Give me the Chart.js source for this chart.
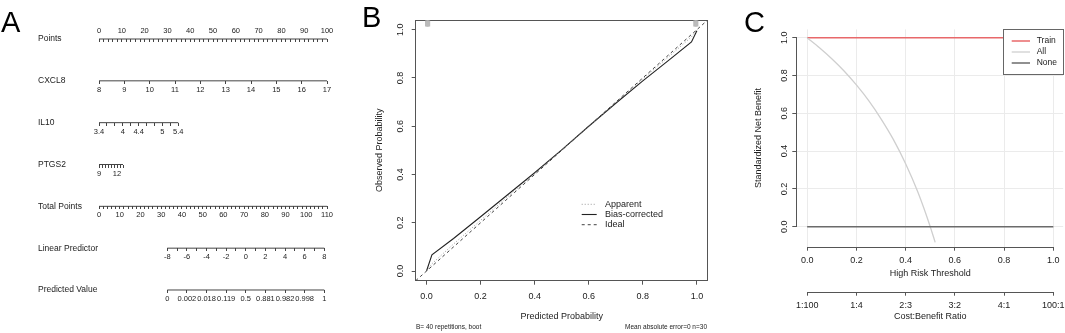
<!DOCTYPE html>
<html>
<head>
<meta charset="utf-8">
<script src="https://cdn.jsdelivr.net/npm/chart.js@4.4.1/dist/chart.umd.min.js"></script>
<style>
  html, body { margin: 0; padding: 0; background: #fff; }
  #wrap { position: relative; width: 1065px; height: 333px; overflow: hidden; }
  canvas { position: absolute; top: 0; }
</style>
</head>
<body>
<div id="wrap">
  <canvas id="nomo" width="340" height="333" style="left:0"></canvas>
  <canvas id="calib" width="370" height="333" style="left:340px"></canvas>
  <canvas id="dca" width="355" height="333" style="left:710px"></canvas>
</div>
<script>
// ---------- data: A nomogram ----------
const rowNames = ['Points', 'CXCL8', 'IL10', 'PTGS2', 'Total Points', 'Linear Predictor', 'Predicted Value'];
const pointsLabels = [0, 10, 20, 30, 40, 50, 60, 70, 80, 90, 100];
const cxcl8Ticks = [8, 9, 10, 11, 12, 13, 14, 15, 16, 17];
const il10Labels = [3.4, 4, 4.4, 5, 5.4];
const ptgs2Labels = [9, 12];
const totalLabels = [0, 10, 20, 30, 40, 50, 60, 70, 80, 90, 100, 110];
const lpLabels = [-8, -6, -4, -2, 0, 2, 4, 6, 8];
const predAt = [-8, -6, -4, -2, 0, 2, 4, 6, 8];
const predLabels = ['0', '0.002', '0.018', '0.119', '0.5', '0.881', '0.982', '0.998', '1'];

// ---------- data: B calibration ----------
const calX = [0, 0.02, 0.1, 0.2, 0.3, 0.4, 0.5, 0.6, 0.7, 0.8, 0.9, 0.98, 1.0];
const biasY = [0, 0.067, 0.135, 0.225, 0.316, 0.407, 0.502, 0.6, 0.695, 0.788, 0.877, 0.949, 0.995];
const apparentY = [0, 0.03, 0.112, 0.21, 0.308, 0.404, 0.5, 0.6, 0.698, 0.796, 0.892, 0.97, 1.0];
const idealX = [-0.04, 1.04];
const rugX = [0, 0.004, 0.008, 0.992, 0.996, 1.0];
const calTicks = [0, 0.2, 0.4, 0.6, 0.8, 1.0];

// ---------- data: C decision curve ----------
const thrTicks = [0, 0.2, 0.4, 0.6, 0.8, 1.0];
const ratioLabels = ['1:100', '1:4', '2:3', '3:2', '4:1', '100:1'];
const nbTicks = [0, 0.2, 0.4, 0.6, 0.8, 1.0];
const trainX = [0, 1], trainY = [1, 1];
const allX = [0, 0.05, 0.1, 0.15, 0.2, 0.25, 0.3, 0.35, 0.4, 0.45, 0.5, 0.52];
const allY = [1.0, 0.947, 0.889, 0.824, 0.75, 0.667, 0.571, 0.462, 0.333, 0.182, 0.0, -0.083];
const noneX = [0, 1], noneY = [0, 0];

const FONT = "'Liberation Sans', Arial, sans-serif";
Chart.defaults.font.family = FONT;
Chart.defaults.color = '#222';
Chart.defaults.animation = false;
Chart.defaults.responsive = false;
Chart.defaults.layout.autoPadding = false;
Chart.defaults.plugins.legend.display = false;
Chart.defaults.plugins.tooltip.enabled = false;

function seq(a, b, step) {
  const out = [];
  for (let v = a; v <= b + 1e-9; v += step) out.push(+v.toFixed(4));
  return out;
}
function pts(xs, ys) { return xs.map((x, i) => ({x: x, y: ys[i]})); }
function has(list, v) { return list.some(u => Math.abs(u - v) < 1e-6); }
function fixTicks(vals) { return s => { s.ticks = vals.map(v => ({value: v})); }; }
// fixed axis box size, no label overhang padding
function fixSize(w, h) {
  return s => {
    if (w !== null) s.width = w;
    if (h !== null) s.height = h;
    s.paddingLeft = s.paddingRight = s.paddingTop = s.paddingBottom = 0;
  };
}

// plugins
const panelLetter = {
  id: 'panelLetter',
  afterDraw(chart, args, o) {
    const ctx = chart.ctx;
    ctx.save();
    ctx.font = o.size + 'px ' + FONT;
    ctx.fillStyle = '#000';
    ctx.textBaseline = 'alphabetic';
    ctx.fillText(o.text, o.x, o.y);
    ctx.restore();
  }
};

const notes = {
  id: 'notes',
  afterDraw(chart, args, o) {
    const ctx = chart.ctx;
    ctx.save();
    o.items.forEach(n => {
      ctx.font = n.size + 'px ' + FONT;
      ctx.fillStyle = '#222';
      ctx.textAlign = n.align;
      ctx.textBaseline = 'middle';
      ctx.fillText(n.text, n.x, n.y);
    });
    ctx.restore();
  }
};

const lineLegend = {
  id: 'lineLegend',
  afterDraw(chart, args, o) {
    const ctx = chart.ctx;
    ctx.save();
    if (o.box) {
      ctx.fillStyle = '#fff';
      ctx.fillRect(o.box.x, o.box.y, o.box.w, o.box.h);
      ctx.strokeStyle = '#666';
      ctx.lineWidth = 1;
      ctx.strokeRect(o.box.x + 0.5, o.box.y + 0.5, o.box.w, o.box.h);
    }
    ctx.font = o.size + 'px ' + FONT;
    ctx.textBaseline = 'middle';
    o.order.forEach((lbl, i) => {
      const d = chart.data.datasets.find(ds => ds.label === lbl);
      const y = o.y + i * o.rowH;
      ctx.strokeStyle = d.borderColor;
      ctx.lineWidth = d.borderWidth;
      ctx.setLineDash(d.borderDash || []);
      ctx.beginPath();
      ctx.moveTo(o.x, y);
      ctx.lineTo(o.x + o.lineLen, y);
      ctx.stroke();
      ctx.setLineDash([]);
      ctx.fillStyle = '#222';
      ctx.fillText(lbl, o.x + o.lineLen + o.gap, y);
    });
    ctx.restore();
  }
};

// R style axis line: only from first to last tick
const rAxisLine = {
  id: 'rAxisLine',
  afterDraw(chart, args, o) {
    const ctx = chart.ctx;
    ctx.save();
    ctx.strokeStyle = o.color;
    ctx.lineWidth = 1;
    o.ids.forEach(id => {
      const s = chart.scales[id];
      const a = s.getPixelForValue(s.ticks[0].value);
      const b = s.getPixelForValue(s.ticks[s.ticks.length - 1].value);
      ctx.beginPath();
      if (s.isHorizontal()) {
        const y = Math.round(s.top) + 0.5;
        ctx.moveTo(a, y); ctx.lineTo(b, y);
      } else {
        const x = Math.round(s.right) - 0.5;
        ctx.moveTo(x, a); ctx.lineTo(x, b);
      }
      ctx.stroke();
    });
    ctx.restore();
  }
};

// ---------- A: nomogram ----------
const AX = '#444';
function rowAxis(row, min, max, ticks, label, above) {
  return {
    type: 'linear', axis: 'x', position: {y: row}, min: min, max: max,
    afterBuildTicks: fixTicks(ticks),
    border: {display: false},
    grid: {display: true, drawOnChartArea: false, drawTicks: true, tickLength: 3, tickColor: AX},
    ticks: {autoSkip: false, maxRotation: 0, minRotation: 0, padding: above ? -16 : 1.5,
            font: {size: 7.5}, color: '#222', callback: label}
  };
}

const rows = [
  {id: 'xPts', ticks: seq(0, 100, 2), min: 0, max: 100, label: v => has(pointsLabels, v) ? String(v) : '', above: true},
  {id: 'xCx', ticks: cxcl8Ticks, min: 8, max: 17, label: v => String(v)},
  {id: 'xIl', ticks: seq(3.4, 5.4, 0.2), min: 3.4, max: 9.15, label: v => has(il10Labels, v) ? String(v) : ''},
  {id: 'xPt', ticks: seq(9, 13, 0.5), min: 9, max: 47, label: v => has(ptgs2Labels, v) ? String(v) : ''},
  {id: 'xTot', ticks: seq(0, 110, 2), min: 0, max: 110, label: v => has(totalLabels, v) ? String(v) : ''},
  {id: 'xLp', ticks: seq(-8, 8, 1), min: -14.96, max: 8.28, label: v => has(lpLabels, v) ? String(v) : ''},
  {id: 'xPr', ticks: predAt, min: -14.96, max: 8.28, label: (v, i) => predLabels[i]}
];

const nomoScales = {
  y: {
    type: 'linear', position: 'left', reverse: true, min: -0.5, max: 6.5,
    afterBuildTicks: fixTicks(rowNames.map((_, i) => i)),
    afterFit: s => { s.width = 61; },
    grid: {display: false}, border: {display: false},
    ticks: {crossAlign: 'far', padding: 0, autoSkip: false, font: {size: 8.5}, color: '#222',
            callback: (v, i) => rowNames[i]}
  }
};
rows.forEach((r, i) => { nomoScales[r.id] = rowAxis(i, r.min, r.max, r.ticks, r.label, r.above); });

new Chart(document.getElementById('nomo'), {
  type: 'scatter',
  data: {
    datasets: rows.map((r, i) => ({
      label: rowNames[i],
      data: [{x: r.ticks[0], y: i}, {x: r.ticks[r.ticks.length - 1], y: i}],
      xAxisID: r.id, yAxisID: 'y', showLine: true,
      borderColor: AX, borderWidth: 1, pointRadius: 0
    }))
  },
  options: {
    layout: {padding: {left: 38, right: 13, top: 18.1, bottom: 22.1}},
    scales: nomoScales,
    plugins: {panelLetter: {text: 'A', x: 1, y: 32, size: 29}}
  },
  plugins: [panelLetter]
});

// ---------- B: calibration ----------
new Chart(document.getElementById('calib'), {
  type: 'scatter',
  data: {
    datasets: [
      {label: 'Ideal', data: pts(idealX, idealX), showLine: true, borderColor: '#444',
       borderWidth: 1, borderDash: [3, 3], pointRadius: 0},
      {label: 'Apparent', data: pts(calX, apparentY), showLine: true, borderColor: '#9a9a9a',
       borderWidth: 1, borderDash: [1, 2], pointRadius: 0},
      {label: 'Bias-corrected', data: pts(calX, biasY), showLine: true, borderColor: '#222',
       borderWidth: 1.1, pointRadius: 0},
      {label: 'rug', data: rugX.map(x => ({x: x, y: 1.025})), pointStyle: 'line', rotation: 90,
       radius: 3, borderColor: '#bbb', borderWidth: 3, showLine: false}
    ]
  },
  options: {
    layout: {padding: {left: 0, right: 2.3, top: 20, bottom: 0}},
    scales: {
      x: {
        type: 'linear', position: 'bottom', min: -0.04, max: 1.04,
        afterBuildTicks: fixTicks(calTicks),
        afterFit: fixSize(null, 52.3),
        grid: {drawOnChartArea: false, tickLength: 4, tickColor: '#555'},
        border: {color: '#555', width: 1},
        ticks: {padding: 6.9, font: {size: 9}, callback: v => v.toFixed(1)},
        title: {display: true, text: 'Predicted Probability', font: {size: 9}, padding: {top: 0, bottom: 10.9}}
      },
      y: {
        type: 'linear', position: 'left', min: -0.04, max: 1.04,
        afterBuildTicks: fixTicks(calTicks),
        afterFit: fixSize(75.7, null),
        grid: {drawOnChartArea: false, tickLength: 4, tickColor: '#555'},
        border: {color: '#555', width: 1},
        ticks: {padding: 5.4, minRotation: 90, maxRotation: 90, crossAlign: 'center', font: {size: 9},
                callback: v => v.toFixed(1)},
        title: {display: true, text: 'Observed Probability', font: {size: 9}, padding: {top: 34.6, bottom: 0}}
      },
      xTop: {
        type: 'linear', axis: 'x', position: 'top', min: -0.04, max: 1.04,
        afterFit: fixSize(null, 0),
        ticks: {display: false}, grid: {display: false, drawTicks: false}, border: {color: '#555', width: 1}
      },
      yRight: {
        type: 'linear', axis: 'y', position: 'right', min: -0.04, max: 1.04,
        afterFit: fixSize(0, null),
        ticks: {display: false}, grid: {display: false, drawTicks: false}, border: {color: '#555', width: 1}
      }
    },
    plugins: {
      panelLetter: {text: 'B', x: 22, y: 26.5, size: 29},
      lineLegend: {order: ['Apparent', 'Bias-corrected', 'Ideal'], x: 241.7, y: 204.3, rowH: 10.2,
                   lineLen: 15, gap: 8.3, size: 9},
      notes: {items: [
        {text: 'B= 40 repetitions, boot', x: 76, y: 327, align: 'left', size: 6.5},
        {text: 'Mean absolute error=0 n=30', x: 367, y: 327, align: 'right', size: 6.5}
      ]}
    }
  },
  plugins: [panelLetter, lineLegend, notes]
});

// ---------- C: decision curve ----------
const GRID = '#ebebeb';
new Chart(document.getElementById('dca'), {
  type: 'scatter',
  data: {
    datasets: [
      {label: 'None', data: pts(noneX, noneY), showLine: true, borderColor: '#6b6b6b', borderWidth: 1.5, pointRadius: 0},
      {label: 'All', data: pts(allX, allY), showLine: true, borderColor: '#cfcfcf', borderWidth: 1.3,
       pointRadius: 0, cubicInterpolationMode: 'monotone'},
      {label: 'Train', data: pts(trainX, trainY), showLine: true, borderColor: '#e8686a', borderWidth: 1.5, pointRadius: 0}
    ]
  },
  options: {
    layout: {padding: {left: 0, right: 1.8, top: 29.4, bottom: 0}},
    scales: {
      x: {
        type: 'linear', position: 'bottom', weight: 0, min: -0.04, max: 1.04,
        afterBuildTicks: fixTicks(thrTicks),
        afterFit: fixSize(null, 45),
        grid: {color: GRID, tickColor: '#555', tickLength: 4},
        border: {display: false},
        ticks: {padding: 4.6, font: {size: 9}, callback: v => v.toFixed(1)},
        title: {display: true, text: 'High Risk Threshold', font: {size: 9}, padding: {top: 0, bottom: 12.3}}
      },
      x2: {
        type: 'linear', axis: 'x', position: 'bottom', weight: 1, min: -0.04, max: 1.04,
        afterBuildTicks: fixTicks(thrTicks),
        afterFit: fixSize(null, 41.3),
        grid: {drawOnChartArea: false, tickColor: '#555', tickLength: 4},
        border: {display: false},
        ticks: {padding: 4.6, font: {size: 9}, autoSkip: false, callback: (v, i) => ratioLabels[i]},
        title: {display: true, text: 'Cost:Benefit Ratio', font: {size: 9}, padding: {top: 0, bottom: 10.9}}
      },
      y: {
        type: 'linear', position: 'left', min: -0.106, max: 1.044,
        afterBuildTicks: fixTicks(nbTicks),
        afterFit: fixSize(87.3, null),
        grid: {color: GRID, tickColor: '#555', tickLength: 5},
        border: {display: false},
        ticks: {padding: 1.05, minRotation: 90, maxRotation: 90, crossAlign: 'center', font: {size: 9},
                callback: v => v.toFixed(1)},
        title: {display: true, text: 'Standardized Net Benefit', font: {size: 9}, padding: {top: 43.6, bottom: 0}}
      }
    },
    plugins: {
      panelLetter: {text: 'C', x: 34, y: 32, size: 29},
      rAxisLine: {ids: ['x', 'x2', 'y'], color: '#555'},
      lineLegend: {order: ['Train', 'All', 'None'], x: 301.7, y: 41, rowH: 11, lineLen: 18.3, gap: 6.7, size: 8.5,
                   box: {x: 293, y: 29, w: 60, h: 45}}
    }
  },
  plugins: [panelLetter, rAxisLine, lineLegend]
});
</script>
</body>
</html>
